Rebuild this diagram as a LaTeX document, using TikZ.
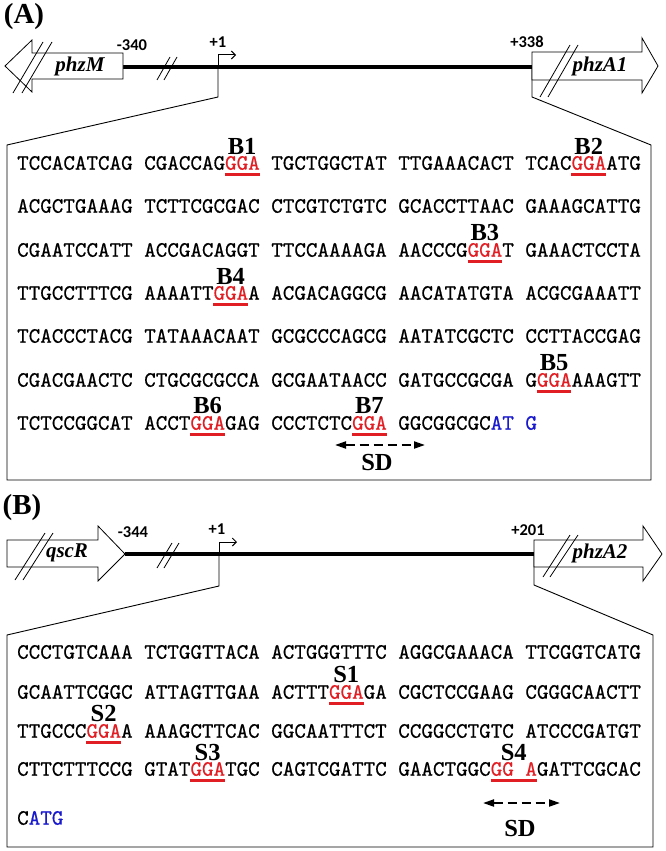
\documentclass[tikz,border=0pt]{standalone}
\usepackage{fontspec}
\usepackage{xcolor}
\usetikzlibrary{arrows.meta}

\newfontfamily\seqfont{lmmono10-regular.otf}[FakeBold=0.6]
\newfontfamily\tnrfont{Liberation Serif}
\newfontfamily\calfont{Carlito}
\definecolor{ggared}{RGB}{225,30,35}
\definecolor{atgblue}{RGB}{25,25,205}
\newcommand{\rd}[1]{\textcolor{ggared}{#1}}
\newcommand{\bl}[1]{\textcolor{atgblue}{#1}}

\tikzset{
  seq/.style={anchor=west, inner sep=0pt, font=\seqfont\fontsize{22}{24}\selectfont},
  site/.style={inner sep=0pt, font=\tnrfont\bfseries\fontsize{24.5}{25}\selectfont},
  gene/.style={inner sep=0pt, font=\tnrfont\bfseries\itshape\fontsize{21}{22}\selectfont},
  coordlbl/.style={inner sep=0pt, font=\calfont\bfseries\fontsize{16.5}{17}\selectfont},
  panel/.style={inner sep=0pt, font=\tnrfont\bfseries\fontsize{29}{30}\selectfont},
  gga/.style={ggared, line width=3pt},
  sd/.style={line width=2pt, dash pattern=on 9pt off 5pt, {Triangle[length=11pt,width=7pt]}-{Triangle[length=11pt,width=7pt]}},
  genebox/.style={fill=white, draw=black, line width=0.8pt},
}

\begin{document}
\begin{tikzpicture}[x=1pt, y=-1pt]
	\useasboundingbox (0,0) rectangle (666,851);

	% (A) phzM - phzA1
	\node[panel] (pA) at (24,17) {(A)};
	\coordinate (a340) at (123,67);
	\coordinate (a338) at (532,67);
	\coordinate (tssA) at (218,67);
	\draw[line width=3.5pt] (a340) -- (a338);
	\filldraw[genebox] (123,53) -- (32,53) -- (32,40) -- (5,66) -- (32,92) -- (32,79) -- (123,79) -- cycle;
	\draw[line width=0.8pt] (13,93) -- (43,42) (22,93) -- (52,42);
	\node[gene] (phzM) at (80,66) {phzM};
	\node[coordlbl] (m340) at (132,45) {-340};
	\draw[line width=0.8pt] (157,80) -- (170,57) (164,80) -- (177,57);
	\draw[line width=1pt, -{Straight Barb[length=4pt,width=8pt]}] (tssA) -- (218,55) -- (236,55);
	\node[coordlbl] (tss1A) at (218,42) {+1};
	\draw[line width=0.9pt] (tssA) -- (218,97) -- (7,145) -- (7,480) -- (651,480) -- (651,145) -- (532,97) -- (a338);
	\filldraw[genebox] (532,52) -- (642,52) -- (642,38) -- (658,66) -- (642,93) -- (642,80) -- (532,80) -- cycle;
	\draw[line width=0.8pt] (540,97) -- (570,45) (548,97) -- (578,45);
	\node[gene] (phzA1) at (600,66) {phzA1};
	\node[coordlbl] (p338) at (527,42) {+338};

	\node[seq] (rA1) at (17,163) {TCCACATCAG CGACCAG\rd{GGA} TGCTGGCTAT TTGAAACACT TCAC\rd{GGA}ATG};
	\node[seq] (rA2) at (17,206) {ACGCTGAAAG TCTTCGCGAC CTCGTCTGTC GCACCTTAAC GAAAGCATTG};
	\node[seq] (rA3) at (17,250) {CGAATCCATT ACCGACAGGT TTCCAAAAGA AACCCG\rd{GGA}T GAAACTCCTA};
	\node[seq] (rA4) at (17,293) {TTGCCTTTCG AAAATT\rd{GGA}A ACGACAGGCG AACATATGTA ACGCGAAATT};
	\node[seq] (rA5) at (17,336) {TCACCCTACG TATAAACAAT GCGCCCAGCG AATATCGCTC CCTTACCGAG};
	\node[seq] (rA6) at (17,380) {CGACGAACTC CTGCGCGCCA GCGAATAACC GATGCCGCGA G\rd{GGA}AAAGTT};
	\node[seq] (rA7) at (17,423) {TCTCCGGCAT ACCT\rd{GGA}GAG CCCTCTC\rd{GGA} GGCGGCGC\bl{AT G}};

	\draw[gga] (224.9,174) -- (259.5,174);
	\node[site] (B1) at (242.2,146) {B1};
	\draw[gga] (571.4,174) -- (606.1,174);
	\node[site] (B2) at (588.7,146) {B2};
	\draw[gga] (467.5,261) -- (502.1,261);
	\node[site] (B3) at (484.8,233) {B3};
	\draw[gga] (213.4,304) -- (248.0,304);
	\node[site] (B4) at (230.7,276) {B4};
	\draw[gga] (536.8,391) -- (571.4,391);
	\node[site] (B5) at (554.1,363) {B5};
	\draw[gga] (190.3,434) -- (224.9,434);
	\node[site] (B6) at (207.6,406) {B6};
	\draw[gga] (352.0,434) -- (386.6,434);
	\node[site] (B7) at (369.3,406) {B7};

	\coordinate (sdA1) at (335,445);
	\coordinate (sdA2) at (425,445);
	\draw[sd] (sdA1) -- (sdA2);
	\node[site] (sdA) at (377,463) {SD};

	% (B) qscR - phzA2
	\node[panel] (pB) at (22,508) {(B)};
	\coordinate (b344) at (125,554);
	\coordinate (b201) at (534,554);
	\coordinate (tssB) at (219,554);
	\draw[line width=3.5pt] (b344) -- (b201);
	\filldraw[genebox] (7,540) -- (98,540) -- (98,526) -- (125,554) -- (98,581) -- (98,567) -- (7,567) -- cycle;
	\draw[line width=0.8pt] (15,580) -- (45,533) (23,580) -- (53,533);
	\node[gene] (qscR) at (67,553) {qscR};
	\node[coordlbl] (m344) at (133,532) {-344};
	\draw[line width=0.8pt] (157,568) -- (172,543) (164,568) -- (179,543);
	\draw[line width=1pt, -{Straight Barb[length=4pt,width=8pt]}] (tssB) -- (219,542) -- (237,542);
	\node[coordlbl] (tss1B) at (217,529) {+1};
	\draw[line width=0.9pt] (tssB) -- (219,586) -- (7,635) -- (7,847) -- (653,847) -- (653,635) -- (534,585) -- (b201);
	\filldraw[genebox] (534,540) -- (643,540) -- (643,526) -- (662,554) -- (643,581) -- (643,567) -- (534,567) -- cycle;
	\draw[line width=0.8pt] (543,577) -- (570,535) (550,577) -- (578,535);
	\node[gene] (phzA2) at (600,553) {phzA2};
	\node[coordlbl] (p201) at (528,530) {+201};

	\node[seq] (rB1) at (17,652) {CCCTGTCAAA TCTGGTTACA ACTGGGTTTC AGGCGAAACA TTCGGTCATG};
	\node[seq] (rB2) at (17,692) {GCAATTCGGC ATTAGTTGAA ACTTT\rd{GGA}GA CGCTCCGAAG CGGGCAACTT};
	\node[seq] (rB3) at (17,731) {TTGCCC\rd{GGA}A AAAGCTTCAC GGCAATTTCT CCGGCCTGTC ATCCCGATGT};
	\node[seq] (rB4) at (17,769) {CTTCTTTCCG GTAT\rd{GGA}TGC CAGTCGATTC GAACTGGC\rd{GG A}GATTCGCAC};
	\node[seq] (rB5) at (17,818) {C\bl{ATG}};

	\draw[gga] (328.9,703) -- (363.5,703);
	\node[site] (S1) at (346.2,675) {S1};
	\draw[gga] (86.3,742) -- (120.9,742);
	\node[site] (S2) at (103.6,714) {S2};
	\draw[gga] (190.3,780) -- (224.9,780);
	\node[site] (S3) at (207.6,752) {S3};
	\draw[gga] (490.6,780) -- (536.8,780);
	\node[site] (S4) at (513.7,752) {S4};

	\coordinate (sdB1) at (483,803);
	\coordinate (sdB2) at (560,803);
	\draw[sd] (sdB1) -- (sdB2);
	\node[site] (sdB) at (520,828) {SD};
\end{tikzpicture}
\end{document}
